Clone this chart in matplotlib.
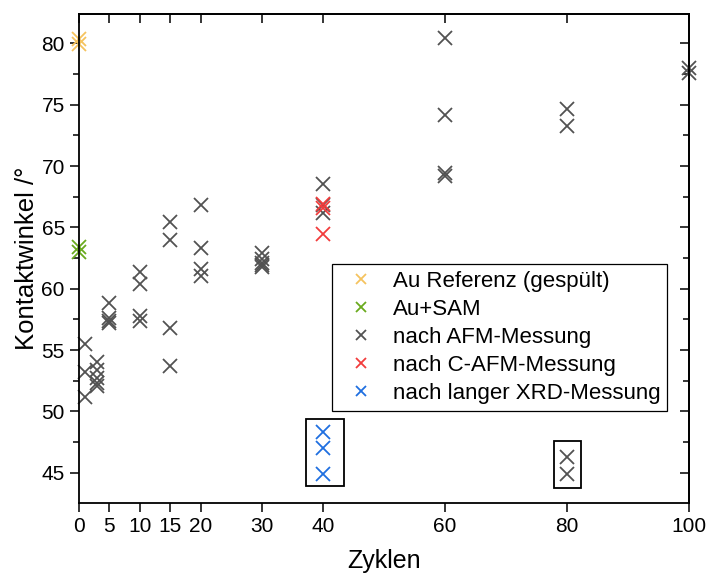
import matplotlib
matplotlib.use("Agg")
import matplotlib.pyplot as plt
from matplotlib.patches import Rectangle

plt.rcParams['font.family'] = ['Liberation Sans', 'DejaVu Sans']

# Au Referenz (gespuelt)
ref_x = [0, 0]
ref_y = [80.35, 79.95]

# Au+SAM
sam_x = [0, 0]
sam_y = [63.4, 63.0]

# nach AFM-Messung
afm_x = [1, 1, 1,
         3, 3, 3, 3, 3,
         5, 5, 5, 5,
         10, 10, 10, 10,
         15, 15, 15, 15,
         20, 20, 20, 20,
         30, 30, 30, 30, 30,
         40, 40, 40,
         60, 60, 60, 60,
         80, 80, 80, 80,
         100, 100]
afm_y = [55.5, 53.2, 51.2,
         54.0, 53.4, 52.7, 52.3, 52.1,
         58.8, 57.6, 57.4, 57.2,
         61.4, 60.4, 57.8, 57.4,
         65.4, 64.0, 56.8, 53.7,
         66.85, 63.35, 61.6, 61.0,
         62.9, 62.4, 62.1, 61.9, 61.8,
         68.5, 66.85, 66.2,
         80.45, 74.2, 69.45, 69.2,
         74.65, 73.25, 46.3, 44.9,
         78.0, 77.6]

# nach C-AFM-Messung
cafm_x = [40, 40, 40]
cafm_y = [66.9, 66.6, 64.5]

# nach langer XRD-Messung
xrd_x = [40, 40, 40]
xrd_y = [48.35, 47.0, 44.85]

fig = plt.figure(figsize=(7.07, 5.77), dpi=100)
ax = fig.add_axes([0.1113, 0.1277, 0.8628, 0.848])

mk = dict(marker='x', linestyle='none', markersize=10.5, markeredgewidth=1.3, clip_on=False)
ax.plot(ref_x, ref_y, color='#F5C35E', label='Au Referenz (gespült)', **mk)
ax.plot(sam_x, sam_y, color='#6AAA1E', label='Au+SAM', **mk)
ax.plot(afm_x, afm_y, color='#525252', label='nach AFM-Messung', **mk)
ax.plot(cafm_x, cafm_y, color='#F23C3C', label='nach C-AFM-Messung', **mk)
ax.plot(xrd_x, xrd_y, color='#1F6FE0', label='nach langer XRD-Messung', **mk)

# boxes around the outliers
ax.add_patch(Rectangle((37.3, 43.95), 6.2, 5.45, fill=False, edgecolor='black', linewidth=1.3))
ax.add_patch(Rectangle((77.9, 43.75), 4.4, 3.8, fill=False, edgecolor='black', linewidth=1.3))

ax.set_xlim(0, 100)
ax.set_ylim(42.5, 82.4)
ax.set_xticks([0, 5, 10, 15, 20, 30, 40, 60, 80, 100])
ax.set_yticks([45, 50, 55, 60, 65, 70, 75, 80])
ax.set_yticks([47.5, 52.5, 57.5, 62.5, 67.5, 72.5, 77.5], minor=True)

ax.tick_params(axis='both', which='major', labelsize=15, length=6.5, width=1.1, color='black')
ax.tick_params(axis='y', which='minor', length=4, width=1.1)
ax.tick_params(axis='both', direction='out', which='both')
for s in ax.spines.values():
    s.set_linewidth(1.3)

# mirrored ticks on top and right, pointing inward
sec_x = ax.secondary_xaxis('top')
sec_x.set_xticks([0, 5, 10, 15, 20, 30, 40, 60, 80, 100])
sec_x.tick_params(direction='in', length=6.5, width=1.1, labeltop=False)
sec_x.spines['top'].set_linewidth(1.3)
sec_y = ax.secondary_yaxis('right')
sec_y.set_yticks([45, 50, 55, 60, 65, 70, 75, 80])
sec_y.set_yticks([47.5, 52.5, 57.5, 62.5, 67.5, 72.5, 77.5], minor=True)
sec_y.tick_params(which='major', direction='in', length=6.5, width=1.1, labelright=False)
sec_y.tick_params(which='minor', direction='in', length=4, width=1.1)
sec_y.spines['right'].set_linewidth(1.3)

ax.set_xlabel('Zyklen', fontsize=18, labelpad=9)
ax.set_ylabel('Kontaktwinkel /°', fontsize=18.5, labelpad=2)

leg = ax.legend(loc='upper left', bbox_to_anchor=(0.415, 0.489), fontsize=16,
                fancybox=False, edgecolor='black', framealpha=1,
                handlelength=2.0, handletextpad=0.45, borderpad=0.3,
                labelspacing=0.32, borderaxespad=0, markerscale=0.75)
leg.get_frame().set_linewidth(0.9)

fig.savefig('out.png', dpi=100)
